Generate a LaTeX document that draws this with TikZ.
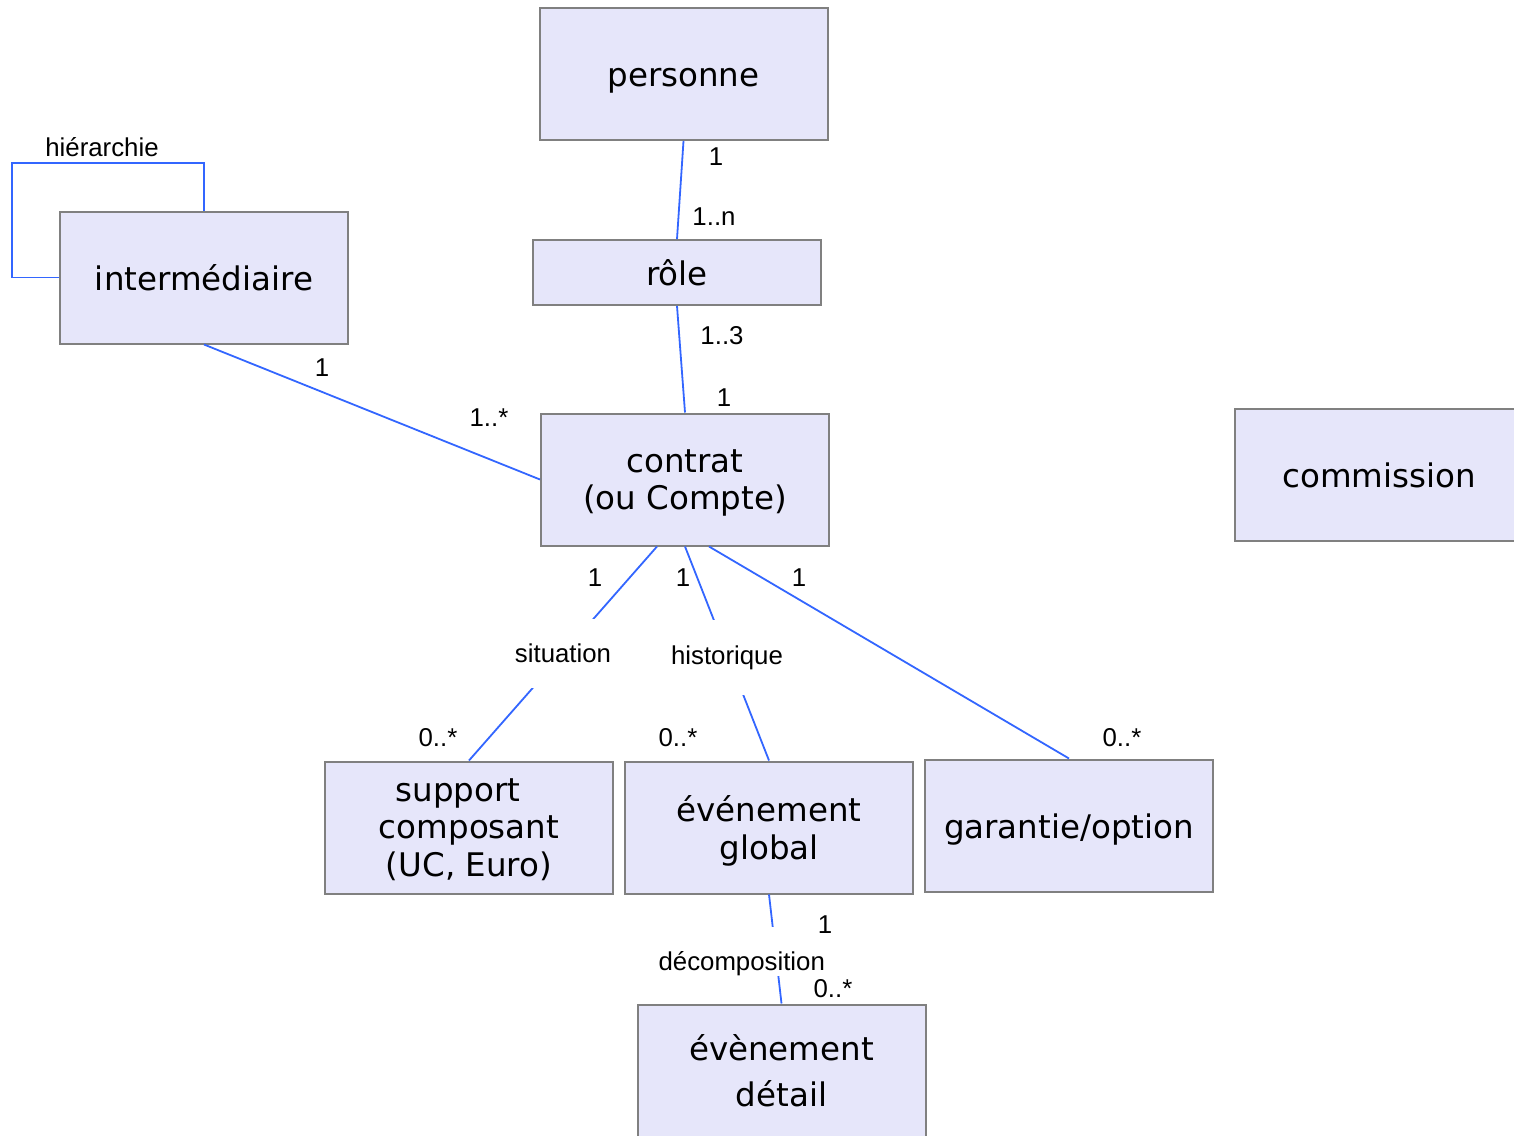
\documentclass[tikz,border=0pt]{standalone}
\usepackage{fontspec}
\setmainfont{Liberation Sans}
\newfontfamily\boxfont{DejaVu Sans}
\usetikzlibrary{positioning}
\definecolor{boxfill}{RGB}{230,230,250}
\definecolor{boxline}{RGB}{128,128,128}
\definecolor{linkblue}{RGB}{51,102,255}

\begin{document}
\begin{tikzpicture}[x=1pt, y=-1pt, on grid,
    entity/.style={draw=boxline, fill=boxfill, line width=2pt, minimum width=288pt,
      minimum height=132pt, inner sep=0pt, align=center, text depth=0pt,
      execute at begin node={\rule{0pt}{25pt}},
      font=\boxfont\fontsize{32.5}{37.5}\selectfont},
    assoc/.style={draw=linkblue, line width=1.8pt},
    mult/.style={font=\fontsize{25.8}{30}\selectfont, inner sep=0pt},
    gaplbl/.style={mult, fill=white, inner xsep=2pt, inner ysep=25pt}]
      \useasboundingbox (0,0) rectangle (1514,1135);
      % classes
      \node[entity] (pers) at (683.5,74) {personne};
      \node[entity, minimum height=65pt] (role) at (677,272.5) {rôle};
      \node[entity] (inter) at (204,277.5) {intermédiaire};
      \node[entity] (contrat) at (685,479.5) {contrat\\(ou Compte)};
      \node[entity] (comm) at (1379,474.5) {commission};
      \node[entity] (supp) at (469,827.5) {support\kern22pt\\composant\\(UC, Euro)};
      \node[entity, right=300pt of supp] (evtg) {événement\\global};
      \node[entity, right=300pt of evtg, yshift=2pt] (garan) {garantie/option};
      \node[entity] (evtd) at (781.5,1070.5) {évènement\\[8pt]détail};
      % associations
      \draw[assoc] (pers.south) -- (role.north);
      \draw[assoc] (role.south) -- (contrat.north);
      \draw[assoc] (inter.south) -- (contrat.west);
      \draw[assoc] (inter.north) |- (12,163) |- (inter.west);
      \draw[assoc] ([xshift=-28pt]contrat.south) -- node[gaplbl] (sit) {situation} (supp.north);
      \draw[assoc] (contrat.south) -- node[gaplbl, yshift=-4pt] (hist) {historique} (evtg.north);
      \draw[assoc] ([xshift=24pt]contrat.south) -- (garan.north);
      \draw[assoc] (evtg.south) -- node[gaplbl, pos=0.525, inner ysep=3pt, inner xsep=0pt,
        text width=234pt, align=left, text height=40pt, text depth=3pt] (decomp) {décomposition} (evtd.north);
      % multiplicities
      \node[mult] (hier) at (102,147) {hiérarchie};
      \node[mult] (mPers) at (716,157) {1};
      \node[mult] (mRoleA) at (714,217) {1..n};
      \node[mult] (mRoleB) at (722,336) {1..3};
      \node[mult] (mContA) at (724,398) {1};
      \node[mult] (mInter) at (322,368) {1};
      \node[mult] (mContB) at (489,418) {1..*};
      \node[mult] (mSitA) at (595,578) {1};
      \node[mult] (mHistA) at (683,578) {1};
      \node[mult] (mGarA) at (799,578) {1};
      \node[mult] (mSitB) at (438,738) {0..*};
      \node[mult] (mHistB) at (678,738) {0..*};
      \node[mult] (mGarB) at (1122,738) {0..*};
      \node[mult] (mDecA) at (825,925) {1};
      \node[mult] (mDecB) at (833,989) {0..*};
    \end{tikzpicture}
\end{document}
